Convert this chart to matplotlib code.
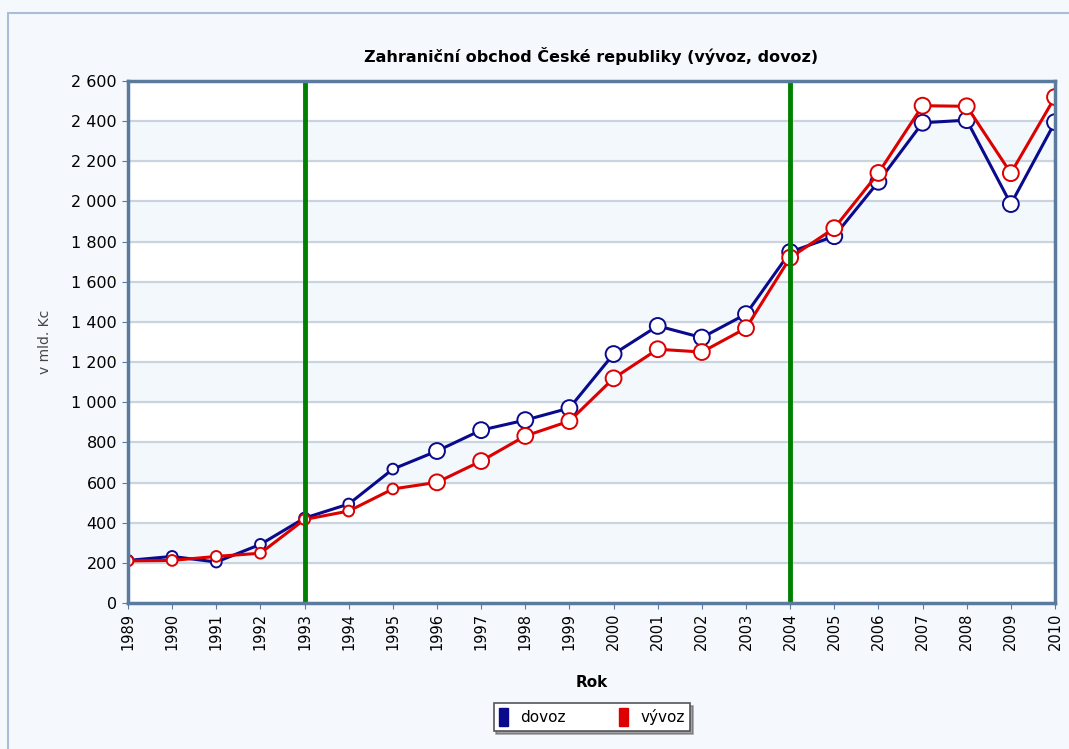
import matplotlib
matplotlib.use('Agg')
import matplotlib.pyplot as plt
from matplotlib.patches import Rectangle, Patch
from matplotlib.ticker import FuncFormatter

# Data (mld. Kc)
years = list(range(1989, 2011))
dovoz = [212, 232, 204, 292, 423, 493, 667, 757, 861, 911, 971, 1240,
         1380, 1322, 1439, 1748, 1827, 2098, 2392, 2405, 1987, 2395]
vyvoz = [210, 212, 232, 248, 416, 458, 568, 601, 707, 832, 906, 1119,
         1264, 1250, 1369, 1720, 1867, 2142, 2477, 2474, 2141, 2520]
marker_sizes = [60] * 7 + [130] * 15
milestones = [1993, 2004]
yticks = list(range(0, 2601, 200))

W, H = 1069, 749
fig = plt.figure(figsize=(W / 100, H / 100), dpi=100)
fig.patch.set_facecolor('#f5f9fd')
# outer frame (only left and top edges are inside the picture)
fig.patches.append(Rectangle((8 / W, -0.1), 1.2, 1.1 - 13 / H, transform=fig.transFigure,
                             facecolor='none', edgecolor='#a9bdd6', linewidth=1.5))

ax = fig.add_axes([128 / W, 1 - 603 / H, 927 / W, 522 / H])
ax.set_facecolor('white')

# alternating bands + grid
for i in range(len(yticks) - 1):
    if i % 2 == 1:
        ax.axhspan(yticks[i], yticks[i + 1], color='#f3f8fd', zorder=0)
for t in yticks[1:-1]:
    ax.axhline(t, color='#c9d4df', linewidth=1.6, zorder=1)

blue = '#0a0a8c'
red = '#dd0000'
ax.plot(years, dovoz, color=blue, linewidth=2.2, zorder=3)
ax.scatter(years, dovoz, s=marker_sizes, facecolor='white', edgecolor=blue,
           linewidth=1.4, zorder=4)
ax.plot(years, vyvoz, color=red, linewidth=2.2, zorder=5)
ax.scatter(years, vyvoz, s=marker_sizes, facecolor='white', edgecolor=red,
           linewidth=1.4, zorder=6)

for m in milestones:
    ax.axvline(m, color='#008000', linewidth=3.5, zorder=7)

ax.set_xlim(1989, 2010)
ax.set_ylim(0, 2600)
ax.set_xticks(years)
ax.set_xticklabels([str(y) for y in years], rotation=90, fontsize=10.5)
ax.set_yticks(yticks)
ax.yaxis.set_major_formatter(FuncFormatter(lambda v, p: f'{int(v):,}'.replace(',', ' ')))
ax.tick_params(axis='y', labelsize=11.5, length=4, color='#5a7a9e', pad=4)
ax.tick_params(axis='x', length=4, color='#5a7a9e', pad=3)

for side in ['left', 'bottom', 'top', 'right']:
    ax.spines[side].set_color('#5a7a9e')
    ax.spines[side].set_linewidth(2.5)
    ax.spines[side].set_zorder(10)

ax.set_title('Zahraniční obchod České republiky (vývoz, dovoz)',
             fontsize=11.5, fontweight='bold', pad=14)
ax.set_xlabel('Rok', fontsize=11, fontweight='bold', labelpad=18)
ax.set_ylabel('v mld. Kc', fontsize=10, color='#444444', labelpad=14)

# legend
handles = [Patch(facecolor=blue, edgecolor=blue, label='dovoz'),
           Patch(facecolor=red, edgecolor=red, label='vývoz')]
leg = fig.legend(handles=handles, loc='center', bbox_to_anchor=(592 / W, 1 - 717 / H),
                 ncol=2, fontsize=11, frameon=True, fancybox=False, shadow=True,
                 handlelength=0.6, handleheight=1.4, columnspacing=3.5,
                 borderpad=0.35, handletextpad=0.8)
leg.get_frame().set_edgecolor('#555555')
leg.get_frame().set_linewidth(1.2)

fig.savefig('out.png', dpi=100, facecolor=fig.get_facecolor())
